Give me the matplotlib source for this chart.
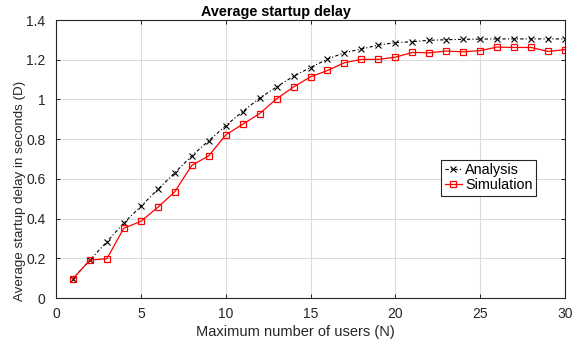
import matplotlib

matplotlib.use("Agg")
import matplotlib.pyplot as plt

plt.rcParams["font.family"] = ["Liberation Sans", "DejaVu Sans"]

users = list(range(1, 31))
analysis = [0.098, 0.191, 0.284, 0.378, 0.462, 0.547, 0.631, 0.716, 0.792, 0.868,
            0.939, 1.007, 1.063, 1.117, 1.161, 1.203, 1.236, 1.254, 1.274, 1.286,
            1.291, 1.298, 1.301, 1.303, 1.304, 1.305, 1.305, 1.305, 1.305, 1.305]
simulation = [0.098, 0.191, 0.198, 0.352, 0.386, 0.457, 0.535, 0.668, 0.716, 0.821,
              0.875, 0.929, 1.003, 1.063, 1.114, 1.146, 1.185, 1.202, 1.202, 1.213,
              1.237, 1.235, 1.244, 1.240, 1.246, 1.264, 1.262, 1.262, 1.242, 1.251]
xticks = [0, 5, 10, 15, 20, 25, 30]
yticks = [0, 0.2, 0.4, 0.6, 0.8, 1.0, 1.2, 1.4]
yticklabels = ["0", "0.2", "0.4", "0.6", "0.8", "1", "1.2", "1.4"]

fig = plt.figure(figsize=(5.84, 3.40), dpi=100)
ax = fig.add_axes([0.0959, 0.1235, 0.8716, 0.8175])

ax.plot(users, analysis, color="black", linestyle=(0, (3, 2, 1, 2)), linewidth=0.8,
        marker="x", markersize=5, markeredgewidth=0.8, label="Analysis")
ax.plot(users, simulation, color="red", linestyle="-", linewidth=0.9,
        marker="s", markersize=4.5, markerfacecolor="none", markeredgewidth=0.9,
        label="Simulation")

ax.set_xlim(0, 30)
ax.set_ylim(0, 1.4)
ax.set_xticks(xticks)
ax.set_yticks(yticks)
ax.set_yticklabels(yticklabels)
ax.tick_params(direction="in", top=True, right=True, labelsize=10, length=3, width=0.6,
               labelcolor="#262626")
ax.tick_params(axis="x", pad=6.5)
ax.tick_params(axis="y", pad=7.5)
ax.grid(True, color="#dcdcdc", linewidth=0.8)
ax.set_axisbelow(True)
for spine in ax.spines.values():
    spine.set_linewidth(0.8)
    spine.set_color("#262626")

ax.set_title("Average startup delay", fontsize=10.4, fontweight="bold", pad=3, x=0.433)
ax.set_xlabel("Maximum number of users (N)", fontsize=10.5, labelpad=2.5, color="#262626")
ax.set_ylabel("Average startup delay in seconds (D)", fontsize=9.6, labelpad=0, color="#262626")
ax.xaxis.label.set_x(0.470)
ax.yaxis.label.set_y(0.385)

leg = ax.legend(loc="center", bbox_to_anchor=(0.85, 0.433), fontsize=10.4,
                frameon=True, fancybox=False, edgecolor="#262626", framealpha=1,
                handlelength=1.2, handletextpad=0.2, borderpad=0.25, labelspacing=0.05,
                borderaxespad=0)
leg.get_frame().set_linewidth(0.8)

fig.savefig("out.png", dpi=100)
